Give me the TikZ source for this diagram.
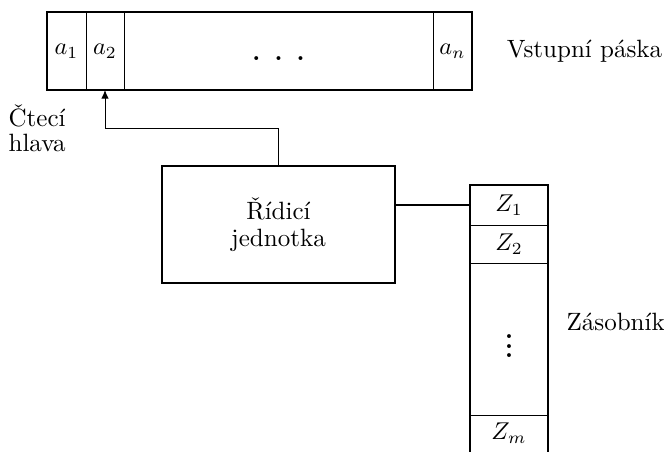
\documentclass[tikz,border=0pt]{standalone}
\usepackage{tikz}
\usetikzlibrary{positioning,arrows.meta}
\tikzset{
  cell/.style={draw, line width=0.4pt, minimum height=32.1pt, inner sep=0pt, outer sep=0pt},
  slot/.style={minimum width=32.1pt, inner sep=0pt, outer sep=0pt},
  frame/.style={line width=0.7pt},
}

\begin{document}
\begin{tikzpicture}[x=0.4115pt, y=-0.4115pt, font=\fontsize{10.3}{11.1}\selectfont]
  \useasboundingbox (0,0) rectangle (664,452);
  % input tape
  \node[cell, minimum width=16.05pt] (a1) at (66.5,51) {$a_1$};
  \node[cell, minimum width=15.64pt, right=0pt of a1] (a2) {$a_2$};
  \node[cell, minimum width=127.15pt, right=0pt of a2, text height=8.2pt, text depth=0pt]
    (adots) {\textbf{.}\hspace{5.8pt}\textbf{.}\hspace{5.8pt}\textbf{.}};
  \node[cell, minimum width=16.05pt, right=0pt of adots] (an) {$a_n$};
  \draw[frame] (a1.north west) rectangle (an.south east);
  \node[right=10.8pt of an] (tapelabel) {Vstupní páska};
  \node[align=left, anchor=west, font=\fontsize{10.3}{10.4}\selectfont] (head) at (0,128) {Čtecí\\hlava};

  % control unit
  \node[draw, frame, minimum width=95.9pt, minimum height=48.1pt, align=center] (ctrl) at (278.5,224.5) {Řídicí\\jednotka};
  \draw[-{Latex[length=3.5pt,width=3pt]}] (ctrl.north) -- ++(0,-37) -| (a2.south);

  % stack
  \node[slot, minimum height=16.46pt] (z1) at (509,205) {$Z_1$};
  \node[slot, minimum height=15.64pt, below=0pt of z1] (z2) {$Z_2$};
  \node[slot, minimum height=62.55pt, below=0pt of z2] (zdots) {\bfseries$\vdots$};
  \node[slot, minimum height=15.2pt, below=0pt of zdots] (zm) {$Z_m$};
  \draw[frame] (zm.south west) |- (z1.north east) -- (zm.south east);
  \foreach \c in {z1,z2,zdots}
    \draw (\c.south west) -- (\c.south east);
  \draw[frame] (z1.west) -- (z1.west -| ctrl.east);
  \node[anchor=west] (stacklabel) at (558,322) {Zásobník};
\end{tikzpicture}
\end{document}
